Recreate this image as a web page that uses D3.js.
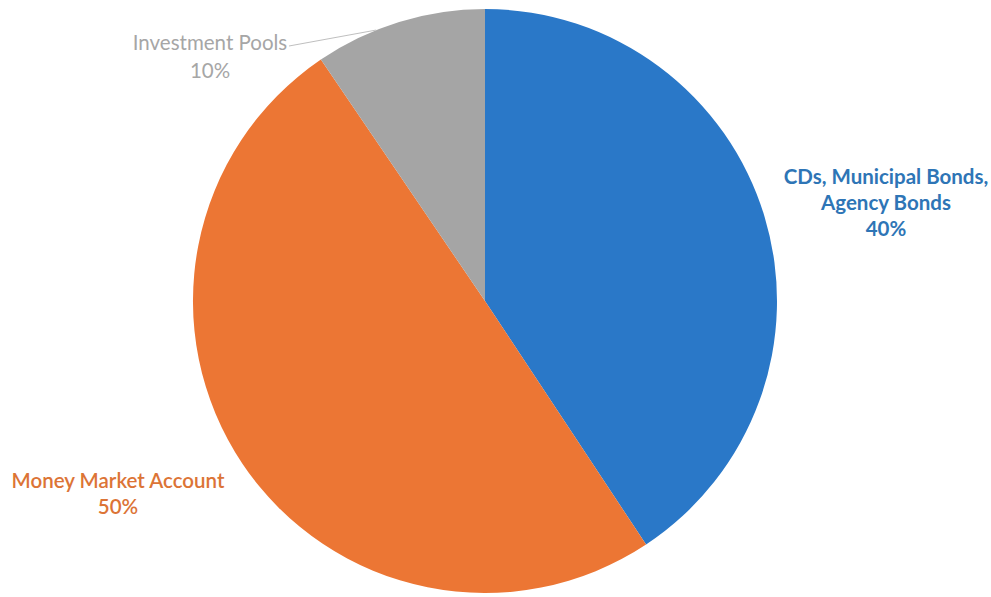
<!DOCTYPE html>
<html>
<head>
<meta charset="utf-8">
<script src="https://cdn.jsdelivr.net/npm/d3@7"></script>
<style>
  html, body { margin: 0; padding: 0; background: #ffffff; }
  svg { display: block; }
</style>
</head>
<body>
<svg id="chart" width="991" height="597"></svg>
<script>
const categories = ["CDs, Municipal Bonds, Agency Bonds", "Money Market Account", "Investment Pools"];
const values = [40.7, 49.8, 9.5];
const percentLabels = ["40%", "50%", "10%"];
const labelLines = [["CDs, Municipal Bonds,", "Agency Bonds"], ["Money Market Account"], ["Investment Pools"]];
const sliceColors = ["#2a78c8", "#ec7634", "#a5a5a5"];
const textColors = ["#2e75b6", "#dc7436", "#a6a6a6"];
const labelPos = [[886, 184], [118, 488], [210, 50]];

const svg = d3.select("#chart");
const cx = 485, cy = 301, r = 292;
const g = svg.append("g").attr("transform", `translate(${cx},${cy})`);

const data = categories.map((c, i) => ({ name: c, value: values[i], i }));
const pie = d3.pie().value(d => d.value).sort(null);
const arc = d3.arc().innerRadius(0).outerRadius(r);
const arcs = pie(data);

g.selectAll("path.slice")
  .data(arcs)
  .join("path")
  .attr("class", "slice")
  .attr("d", arc)
  .attr("fill", d => sliceColors[d.data.i])
  .attr("stroke", "none");

// leader line for Investment Pools
const gp = arcs[2];
const lineAngle = gp.startAngle + (gp.endAngle - gp.startAngle) * 0.36;
const ex = cx + r * Math.sin(lineAngle), ey = cy - r * Math.cos(lineAngle);
svg.append("line")
  .attr("x1", 289).attr("y1", 46)
  .attr("x2", ex).attr("y2", ey)
  .attr("stroke", "#bfbfbf").attr("stroke-width", 1);

const lh = [26, 26, 28];
const fs = [20.5, 20.5, 20.5];
data.forEach((d, i) => {
  const [x, y] = labelPos[i];
  const t = svg.append("text")
    .attr("x", x).attr("y", y)
    .attr("text-anchor", "middle")
    .attr("font-family", "Lato, 'Open Sans', sans-serif")
    .attr("font-size", fs[i])
    .attr("font-weight", i === 0 ? 700 : (i === 1 ? 600 : 400))
    .attr("fill", textColors[i]);
  const lines = labelLines[i].concat([percentLabels[i]]);
  lines.forEach((l, k) => {
    t.append("tspan").attr("x", x).attr("y", y + k * lh[i]).text(l);
  });
});
</script>
</body>
</html>
